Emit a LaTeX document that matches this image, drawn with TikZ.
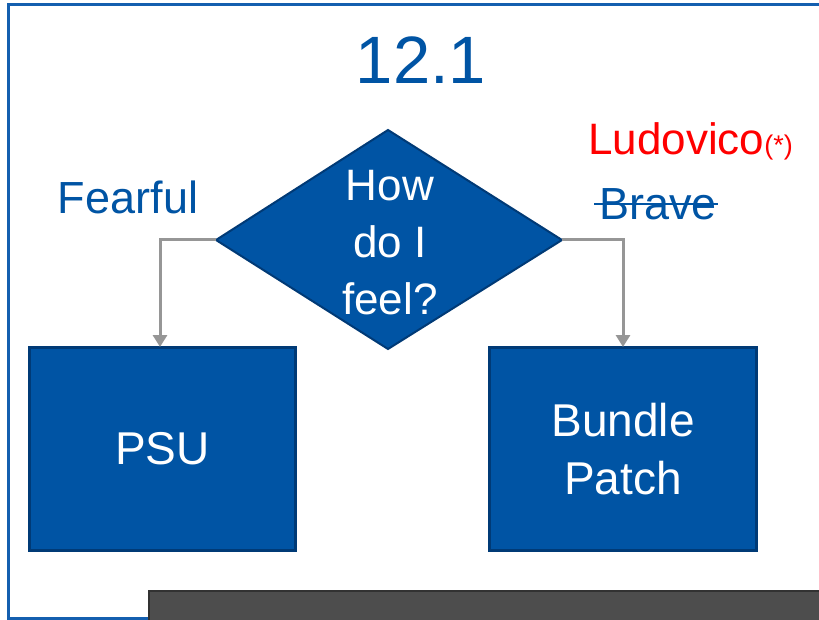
\documentclass[tikz,border=0pt]{standalone}
\usepackage{fontspec}
\setmainfont{Liberation Sans}
\usetikzlibrary{shapes.geometric,arrows.meta}
\definecolor{fillblue}{RGB}{0,84,164}
\definecolor{edgeblue}{RGB}{0,58,118}
\definecolor{frameblue}{RGB}{20,95,175}
\definecolor{textblue}{RGB}{0,84,164}
\definecolor{arrowgray}{RGB}{150,150,150}
\definecolor{bargray}{RGB}{77,77,77}
\definecolor{bardark}{RGB}{50,50,50}
\tikzset{
  boxnode/.style={draw=edgeblue,line width=2.5pt,fill=fillblue,text=white,inner sep=0pt,align=center,font=\fontsize{46}{58}\selectfont},
  flowarrow/.style={draw=arrowgray,line width=3pt,-{Triangle[length=12pt,width=14pt]}},
  lbl/.style={text=textblue,inner sep=0pt,font=\fontsize{45}{50}\selectfont}
}
\begin{document}
\begin{tikzpicture}[x=1pt,y=-1pt]
\useasboundingbox (0,0) rectangle (819,620);
\fill[white] (0,0) rectangle (819,620);
% frame
\draw[frameblue,line width=3pt] (819,5) -- (8,5) -- (8,618) -- (150,618);
% title
\node[text=textblue,font=\fontsize{67}{70}\selectfont] (title) at (421,60) {12.1};
% diamond
\draw[edgeblue,line width=2pt,fill=fillblue] (216,240) -- (388,130) -- (562,240) -- (388,349) -- cycle;
\coordinate (dl) at (216,240);
\coordinate (dr) at (562,240);
\node[text=white,align=center,font=\fontsize{44}{57}\selectfont] (q) at (390,243) {How\\do I\\feel?};
% boxes
\node[boxnode,minimum width=266pt,minimum height=203pt] (psu) at (162.5,449) {PSU};
\node[boxnode,minimum width=267pt,minimum height=203pt] (bp) at (623,449) {Bundle\\Patch};
% arrows
\draw[flowarrow] (dl) -- (160,240) -- (160,347);
\draw[flowarrow] (dr) -- (623,240) -- (623,347);
% labels
\node[lbl] (fear) at (128,197) {Fearful};
\node[lbl] (brave) at (658,204) {Brave};
\draw[textblue,line width=2.5pt] (594,204) -- (718,204);
\node[text=red,inner sep=0pt,anchor=base west,font=\fontsize{44}{48}\selectfont] (ludo) at (588,155) {Ludovico\fontsize{27}{30}\selectfont(*)};
% bottom bar
\draw[bardark,line width=2pt,fill=bargray] (149,630) -- (149,591) -- (830,591) -- (830,630);
\end{tikzpicture}
\end{document}
